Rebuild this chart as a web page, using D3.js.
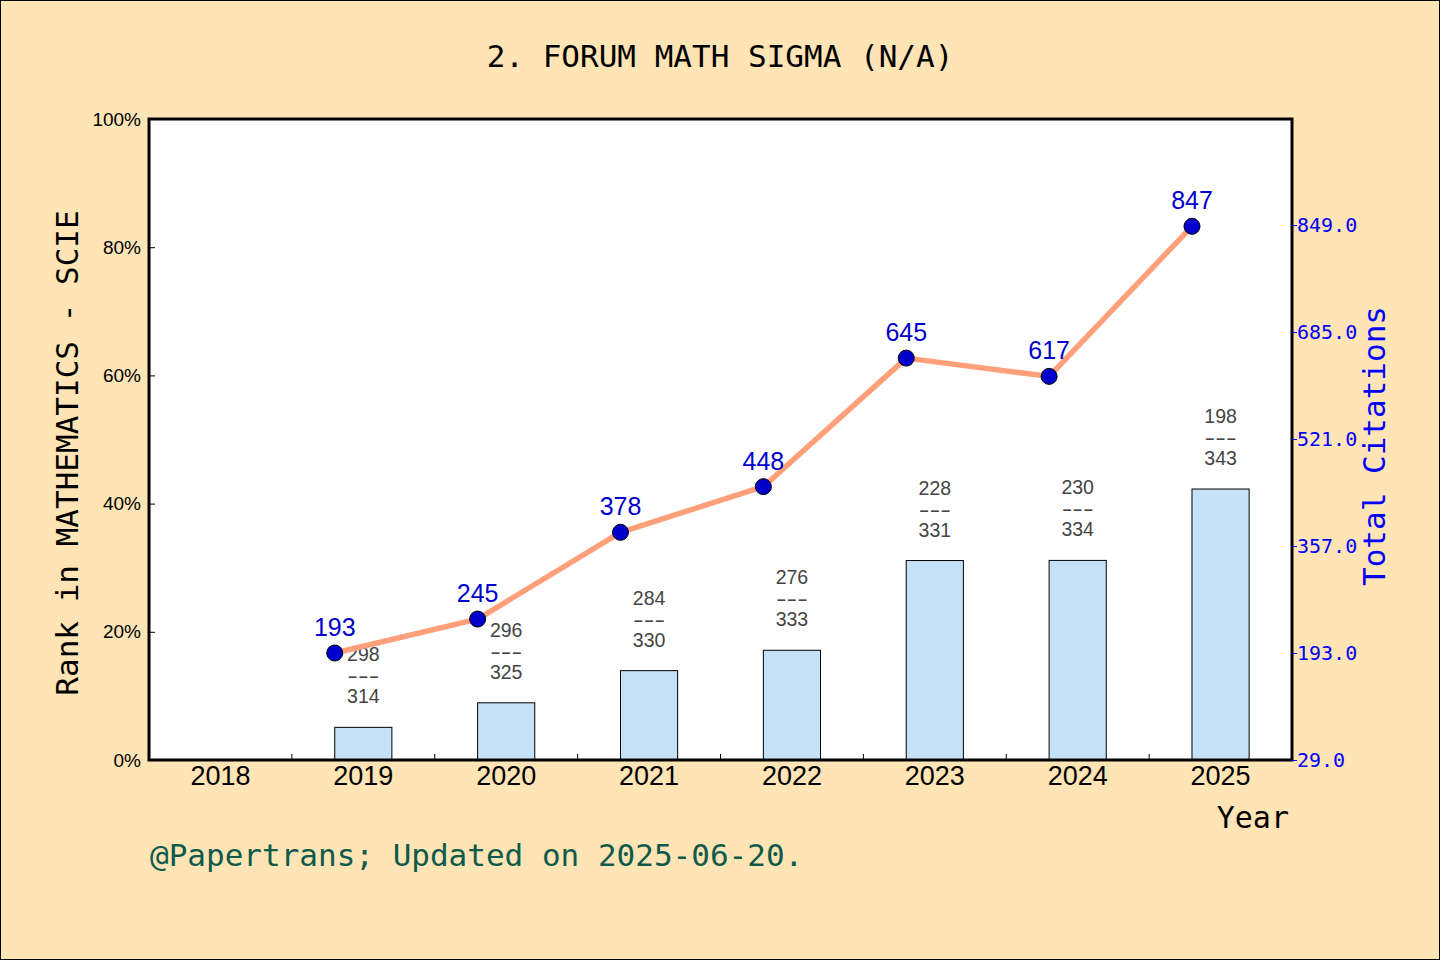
<!DOCTYPE html>
<html>
<head>
<meta charset="utf-8">
<script src="https://cdn.jsdelivr.net/npm/d3@7"></script>
<style>
html,body{margin:0;padding:0;background:#FFE4B5;}
svg{display:block;}
</style>
</head>
<body>
<svg id="chart" width="1440" height="960"></svg>
<script>
const years = ["2018","2019","2020","2021","2022","2023","2024","2025"];
const ranks = [null, 298, 296, 284, 276, 228, 230, 198];
const totals = [null, 314, 325, 330, 333, 331, 334, 343];
const citations = [null, 193, 245, 378, 448, 645, 617, 847];
const leftTicks = [0, 20, 40, 60, 80, 100];
const rightTicks = [29, 193, 357, 521, 685, 849];
const titleText = "2. FORUM MATH SIGMA (N/A)";
const footerText = "@Papertrans; Updated on 2025-06-20.";

const W = 1440, H = 960;
const m = {left:149, right:1292, top:119, bottom:760};
const mono = "'DejaVu Sans Mono','Liberation Mono',monospace";
const sans = "'Liberation Sans',Arial,sans-serif";

const svg = d3.select("#chart");
svg.append("rect").attr("x",0.5).attr("y",0.5).attr("width",W-1).attr("height",H-1)
  .attr("fill","#FFE4B5").attr("stroke","#000").attr("stroke-width",1);

const x = d3.scaleBand().domain(years).range([m.left, m.right]).padding(0);
const yL = d3.scaleLinear().domain([0,100]).range([m.bottom, m.top]);
const yR = d3.scaleLinear().domain([29, 1011.5]).range([m.bottom, m.top]);

svg.append("rect").attr("x",m.left).attr("y",m.top)
  .attr("width",m.right-m.left).attr("height",m.bottom-m.top).attr("fill","#fff");

const data = years.map((yr,i)=>({year:yr, rank:ranks[i], total:totals[i], cit:citations[i],
  pct: ranks[i]==null ? null : (1 - ranks[i]/totals[i])*100}));
const valid = data.filter(d=>d.rank!=null);

const bw = x.bandwidth()*0.4;
// bars
svg.append("g").selectAll("rect").data(valid).enter().append("rect")
  .attr("x", d=>x(d.year)+x.bandwidth()/2 - bw/2)
  .attr("y", d=>yL(d.pct))
  .attr("width", bw)
  .attr("height", d=>m.bottom - yL(d.pct))
  .attr("fill","#C5E1F7").attr("stroke","#000").attr("stroke-width",1);

// rank labels
const rl = svg.append("g").attr("font-family",sans).attr("font-size",19.5).attr("fill","#444").attr("text-anchor","middle");
valid.forEach(d=>{
  const cx = x(d.year)+x.bandwidth()/2, top = yL(d.pct);
  rl.append("text").attr("x",cx).attr("y",top-66).text(d.rank);
  rl.append("text").attr("x",cx).attr("y",top-44).attr("textLength",32)
    .attr("lengthAdjust","spacingAndGlyphs").text("---");
  rl.append("text").attr("x",cx).attr("y",top-24).text(d.total);
});

// line
const px = d=>x(d.year)+x.bandwidth()/2 - bw/2;
const line = d3.line().x(px).y(d=>yR(d.cit));
svg.append("path").datum(valid).attr("d",line).attr("fill","none")
  .attr("stroke","#FFA07A").attr("stroke-width",5.5).attr("stroke-linejoin","round");
svg.append("g").selectAll("circle").data(valid).enter().append("circle")
  .attr("cx",px).attr("cy",d=>yR(d.cit)).attr("r",8)
  .attr("fill","#0000CD").attr("stroke","#000").attr("stroke-width",1);
svg.append("g").selectAll("text").data(valid).enter().append("text")
  .attr("x",px).attr("y",d=>yR(d.cit)-17).attr("text-anchor","middle")
  .attr("font-family",sans).attr("font-size",25).attr("fill","#0000CD").text(d=>d.cit);

// frame
svg.append("rect").attr("x",m.left).attr("y",m.top)
  .attr("width",m.right-m.left).attr("height",m.bottom-m.top)
  .attr("fill","none").attr("stroke","#000").attr("stroke-width",3);

// left axis
const gL = svg.append("g").attr("transform",`translate(${m.left},0)`)
  .call(d3.axisLeft(yL).tickValues(leftTicks).tickFormat(d=>d+"%").tickSizeInner(-6).tickSizeOuter(0).tickPadding(8));
gL.select(".domain").remove();
gL.selectAll("text").attr("font-family",sans).attr("font-size",19).attr("fill","#000");
gL.selectAll("line").attr("stroke","#000");

// right axis
const gR = svg.append("g").attr("transform",`translate(${m.right},0)`)
  .call(d3.axisRight(yR).tickValues(rightTicks).tickFormat(d3.format(".1f")).tickSizeInner(5).tickSizeOuter(0).tickPadding(0));
gR.select(".domain").remove();
gR.selectAll("text").attr("font-family",mono).attr("font-size",20).attr("fill","#0000FF");
gR.selectAll("line").attr("stroke","#0000FF");

// bottom axis
const gB = svg.append("g").attr("transform",`translate(0,${m.bottom})`)
  .call(d3.axisBottom(x).tickSize(0).tickPadding(6));
gB.select(".domain").remove();
gB.selectAll("text").attr("font-family",sans).attr("font-size",27).attr("fill","#000");
svg.append("g").selectAll("line").data(years.slice(1)).enter().append("line")
  .attr("x1",d=>x(d)).attr("x2",d=>x(d)).attr("y1",m.bottom).attr("y2",m.bottom-6)
  .attr("stroke","#000").attr("stroke-width",1);

// titles
svg.append("text").attr("x",720).attr("y",67).attr("text-anchor","middle")
  .attr("font-family",mono).attr("font-size",31).attr("fill","#000").text(titleText);
svg.append("text").attr("transform","translate(67,453) rotate(-90)").attr("text-anchor","middle")
  .attr("dy","0.36em").attr("font-family",mono).attr("font-size",31).attr("fill","#000")
  .text("Rank in MATHEMATICS - SCIE");
svg.append("text").attr("transform","translate(1374,446) rotate(-90)").attr("text-anchor","middle")
  .attr("dy","0.36em").attr("font-family",mono).attr("font-size",31).attr("fill","#0000FF")
  .text("Total Citations");
svg.append("text").attr("x",1289).attr("y",828).attr("text-anchor","end")
  .attr("font-family",mono).attr("font-size",30).attr("fill","#000").text("Year");
svg.append("text").attr("x",150).attr("y",866)
  .attr("font-family",mono).attr("font-size",31).attr("fill","#0E5A4A").text(footerText);
</script>
</body>
</html>
